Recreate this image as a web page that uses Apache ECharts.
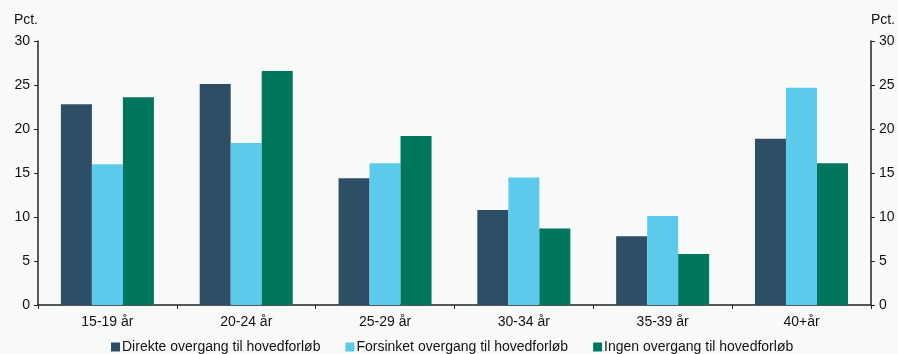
<!DOCTYPE html>
<html>
<head>
<meta charset="utf-8">
<script src="https://cdn.jsdelivr.net/npm/echarts@6/dist/echarts.min.js"></script>
<style>
  html, body { margin: 0; padding: 0; background: #f8fafa; }
  #chart { width: 898px; height: 354px; }
</style>
</head>
<body>
<div id="chart"></div>
<script>
var categories = ['15-19 år', '20-24 år', '25-29 år', '30-34 år', '35-39 år', '40+år'];
var direkte = [22.8, 25.1, 14.4, 10.8, 7.8, 18.9];
var forsinket = [16.0, 18.4, 16.1, 14.5, 10.1, 24.7];
var ingen = [23.6, 26.6, 19.2, 8.7, 5.8, 16.1];
var seriesNames = ['Direkte overgang til hovedforløb', 'Forsinket overgang til hovedforløb', 'Ingen overgang til hovedforløb'];
var yTicks = [0, 5, 10, 15, 20, 25, 30];

var chart = echarts.init(document.getElementById('chart'));
var font = 'Liberation Sans, Arial, sans-serif';

function valueAxis(pos) {
  return {
    type: 'value',
    position: pos,
    min: yTicks[0],
    max: yTicks[yTicks.length - 1],
    interval: 5,
    name: 'Pct.',
    nameLocation: 'end',
    nameGap: 14,
    nameTextStyle: { color: '#111', fontSize: 14, fontFamily: font, align: pos === 'left' ? 'right' : 'left' },
    axisLine: { show: true, lineStyle: { color: '#222', width: 1.5 } },
    axisTick: { show: true, inside: false, length: 4, lineStyle: { color: '#222' } },
    axisLabel: { color: '#111', fontSize: 14, fontFamily: font, margin: 8 },
    splitLine: { show: false }
  };
}

var colors = ['#2E4E66', '#5CCBEB', '#00765D'];

var option = {
  backgroundColor: '#f8fafa',
  color: colors,
  animation: false,
  grid: { left: 38, right: 26, top: 41, bottom: 49 },
  legend: {
    data: seriesNames,
    top: 340,
    left: 111,
    padding: 0,
    itemWidth: 9,
    itemHeight: 9,
    itemGap: 25,
    icon: 'rect',
    textStyle: { color: '#111', fontSize: 14, fontFamily: font, padding: [0, 0, 0, -3] }
  },
  xAxis: {
    type: 'category',
    data: categories,
    axisLine: { lineStyle: { color: '#222', width: 1.5 } },
    axisTick: { show: true, length: 4, lineStyle: { color: '#222' } },
    axisLabel: { color: '#111', fontSize: 14, fontFamily: font, margin: 10 }
  },
  yAxis: [valueAxis('left'), valueAxis('right')],
  series: [
    { name: seriesNames[0], type: 'bar', data: direkte, barGap: '0%', barCategoryGap: '33%' },
    { name: seriesNames[1], type: 'bar', data: forsinket, barGap: '0%', barCategoryGap: '33%' },
    { name: seriesNames[2], type: 'bar', data: ingen, barGap: '0%', barCategoryGap: '33%' }
  ]
};
chart.setOption(option);
</script>
</body>
</html>
